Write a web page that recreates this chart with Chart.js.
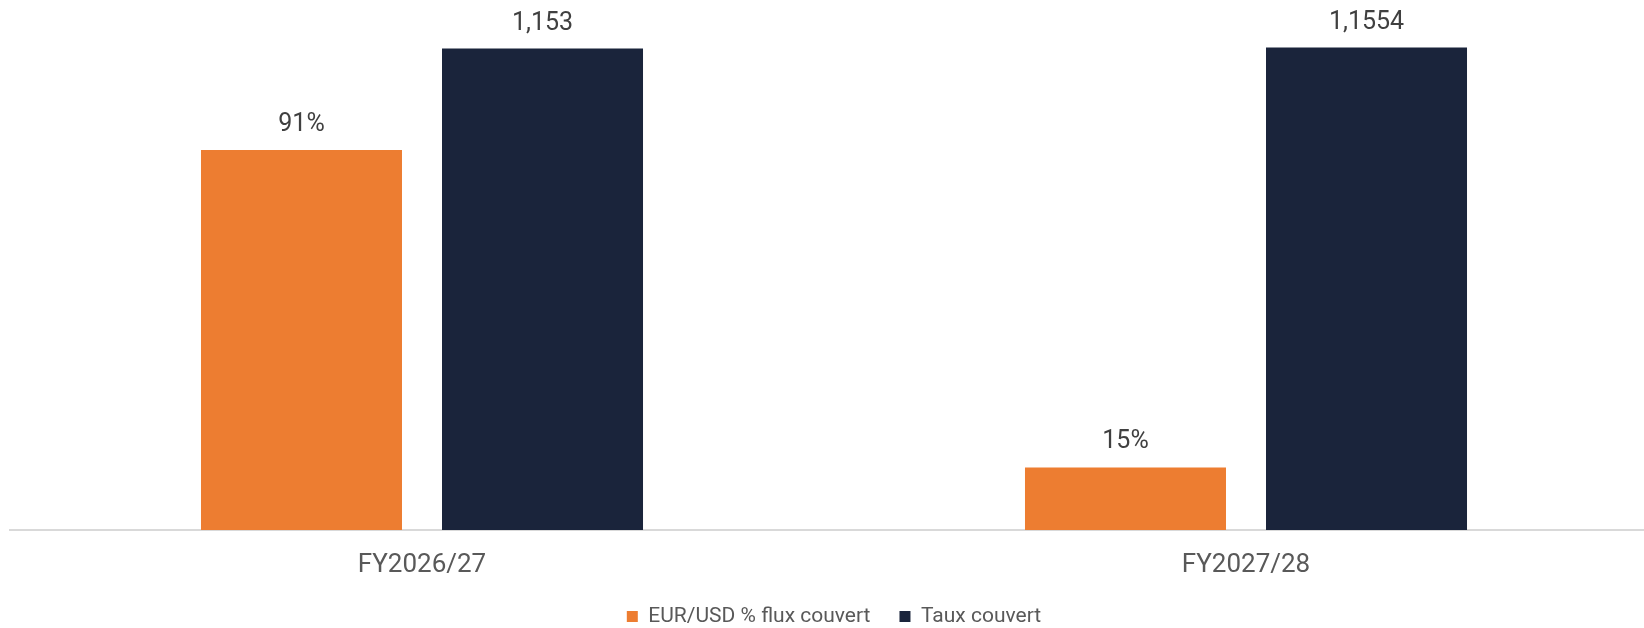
<!DOCTYPE html>
<html>
<head>
<meta charset="utf-8">
<script src="https://cdn.jsdelivr.net/npm/chart.js@4.4.1/dist/chart.umd.min.js"></script>
<style>
    html, body { margin: 0; padding: 0; background: #fff; overflow: hidden; }
    #wrap { width: 1658px; height: 628px; }
</style>
</head>
<body>
<div id="wrap"><canvas id="hedgeChart" width="1658" height="628"></canvas></div>
<script>
const periods = ["FY2026/27", "FY2027/28"];
const hedgedShare = [0.91, 0.15];      // EUR/USD % flux couvert
const hedgedRate = [1.153, 1.1554];    // Taux couvert

const orange = "#ed7d31";
const navy = "#1a243b";

// draws the value above each bar (no datalabels plugin offline)
const valueLabels = {
    id: "valueLabels",
    afterDatasetsDraw(chart) {
        const ctx = chart.ctx;
        ctx.save();
        ctx.font = "25px Roboto";
        ctx.fillStyle = "#404040";
        ctx.textAlign = "center";
        ctx.textBaseline = "alphabetic";
        chart.data.datasets.forEach((ds, i) => {
            chart.getDatasetMeta(i).data.forEach((bar, j) => {
                const v = ds.data[j];
                const txt = i === 0 ? Math.round(v * 100) + "%" : String(v).replace(".", ",");
                ctx.fillText(txt, bar.x, bar.y - 19);
            });
        });
        ctx.restore();
    }
};

new Chart(document.getElementById("hedgeChart"), {
    type: "bar",
    data: {
        labels: periods,
        datasets: [
            {
                label: "EUR/USD % flux couvert",
                data: hedgedShare,
                backgroundColor: orange
            },
            {
                label: "Taux couvert",
                data: hedgedRate,
                backgroundColor: navy
            }
        ]
    },
    options: {
        responsive: false,
        animation: false,
        categoryPercentage: 0.585,
        barPercentage: 0.834,
        layout: {
            padding: { top: 29, left: 10, right: 0, bottom: -9 }
        },
        plugins: {
            legend: {
                position: "bottom",
                labels: {
                    boxWidth: 11,
                    boxHeight: 11,
                    padding: 29,
                    color: "#595959",
                    font: { family: "Roboto", size: 21 }
                }
            },
            tooltip: { enabled: false }
        },
        scales: {
            x: {
                grid: { display: false, drawTicks: false },
                border: { color: "#d9d9d9", width: 2 },
                ticks: {
                    padding: 20,
                    color: "#595959",
                    font: { family: "Roboto", size: 26 }
                },
                afterFit(scale) {
                    scale.height = 47;
                }
            },
            y: {
                display: false,
                min: 0,
                max: 1.2
            }
        }
    },
    plugins: [valueLabels]
});
</script>
</body>
</html>
